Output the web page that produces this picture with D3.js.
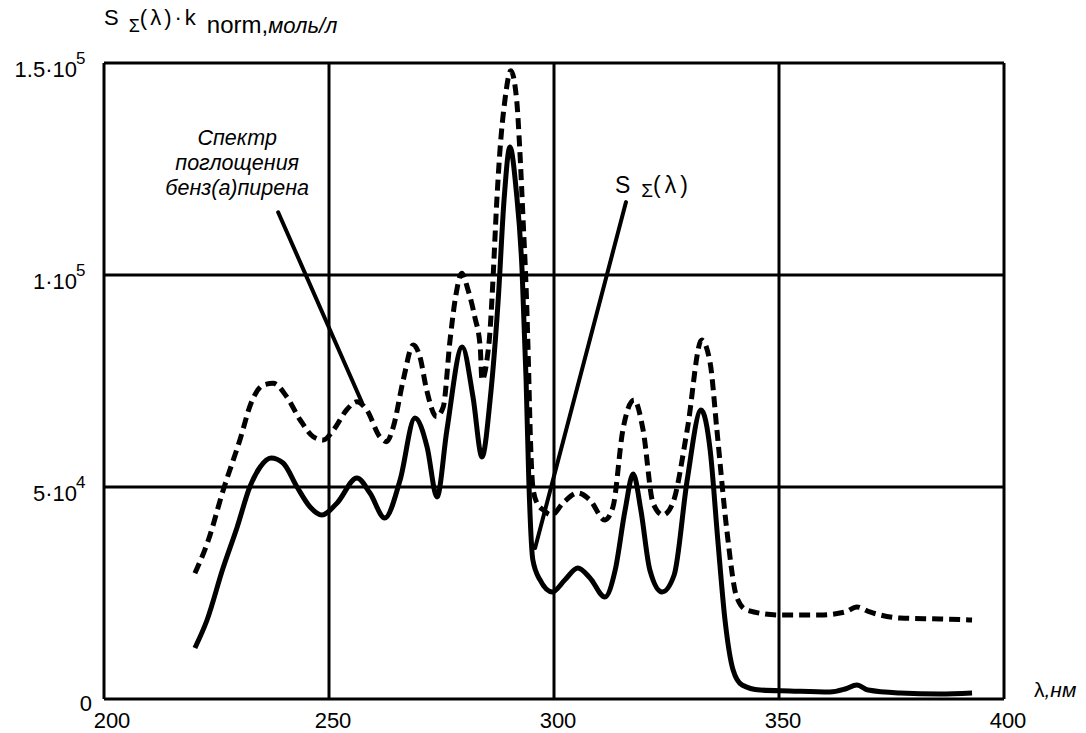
<!DOCTYPE html>
<html>
<head>
<meta charset="utf-8">
<script src="https://cdn.jsdelivr.net/npm/d3@7"></script>
<style>
  html, body { margin: 0; padding: 0; background: #fff; }
  svg { display: block; font-family: "Liberation Sans", Arial, sans-serif; }
</style>
</head>
<body>
<svg id="chart" width="1086" height="733"></svg>
<script>
// ---- data ----
const xTicks = [200, 250, 300, 350, 400];
const yTicks = [0, 50000, 100000, 150000];
const yTickMant = ["0", "5·10", "1·10", "1.5·10"];
const yTickExp = ["", "4", "5", "5"];

// S_Σ(λ) — solid
const sumLambda = [220.2,222.9,226.4,229.6,232.4,234.7,237.1,239.8,242.9,245.8,248.4,251.8,256.2,259.1,262.4,265.8,269.1,271.8,274.0,276.2,279.6,282.0,284.0,285.8,287.6,288.9,290.2,291.6,292.9,293.8,294.4,295.3,296.9,299.6,302.4,305.3,308.0,311.3,313.6,315.8,317.6,319.3,321.3,324.0,326.7,329.6,332.7,334.7,336.4,338.0,339.8,341.8,345.8,352.4,361.3,364.7,367.3,369.8,376.9,385.8,392.9];
const sumValue = [12030,18630,30700,40570,50000,54720,56840,55660,50000,45290,43400,46230,52120,48580,42690,51650,66270,59430,47640,63440,83020,71230,57080,70520,94100,117700,130200,120000,101200,75200,51650,32800,28070,25240,28070,30900,28540,24060,30420,44580,53070,44580,30420,25240,29250,51650,68160,58730,37500,18630,6840,3300,2120,1890,1650,2360,3300,2120,1420,1180,1420];

// benz(a)pyrene absorption spectrum · k_norm — dashed
const bapLambda = [220.2,223.2,226.5,230.2,232.8,235.4,237.6,240.6,243.6,246.5,248.7,251.0,253.9,256.2,258.4,261.3,262.8,264.3,266.5,268.7,270.2,271.7,273.9,275.4,276.9,278.2,279.5,280.9,282.4,283.6,284.0,285.1,285.8,286.4,287.3,288.0,289.1,290.4,291.7,292.4,293.1,293.9,294.3,294.7,295.3,296.2,297.6,299.5,302.0,305.3,308.0,311.3,313.1,315.3,317.8,319.8,322.0,324.2,326.4,329.6,332.8,334.7,336.2,338.4,340.6,342.8,350.2,359.1,364.7,367.3,370.2,376.9,385.8,392.9];
const bapValue = [29650,37500,49290,61090,70120,74060,74460,71300,65800,61860,61090,63440,68160,70120,68160,61860,60680,64220,75240,83490,80730,72880,66580,68940,84670,95280,100400,96460,90100,83020,75240,79950,87030,98110,117700,129500,141300,148200,141300,129500,113700,94100,79950,63440,50000,46230,44580,43400,46230,48580,46930,42220,45280,63440,70520,63440,46230,43400,46230,63440,84670,79240,63440,39860,24060,20990,19810,19810,20520,21700,20520,19100,18870,18630];

// annotation anchors (data units)
const bapLeader = [[238.7, 114800], [257.3, 70000]];
const sumLeader = [[316.0, 117200], [295.8, 35600]];
const bapNoteLines = ["Спектр", "поглощения", "бенз(а)пирена"];

// ---- layout ----
const svg = d3.select("#chart");
const x = d3.scaleLinear().domain([200, 400]).range([104, 1004]);
const y = d3.scaleLinear().domain([0, 150000]).range([699, 63]);

// grid
const g = svg.append("g");
g.selectAll("line.vg").data(xTicks).join("line")
  .attr("x1", d => x(d)).attr("x2", d => x(d))
  .attr("y1", y(0)).attr("y2", y(150000))
  .attr("stroke", "#000").attr("stroke-width", 3);
g.selectAll("line.hg").data(yTicks).join("line")
  .attr("x1", x(200)).attr("x2", x(400))
  .attr("y1", d => y(d)).attr("y2", d => y(d))
  .attr("stroke", "#000").attr("stroke-width", 3);

// x tick labels
svg.append("g").selectAll("text").data(xTicks).join("text")
  .attr("x", (d, i) => x(d) + (i === 0 ? 8 : 4)).attr("y", y(0) + 29)
  .attr("text-anchor", "middle").attr("font-size", 22)
  .text(d => d);

// y tick labels
svg.append("g").selectAll("text").data(yTicks).join("text")
  .attr("x", (d, i) => i === 0 ? 92 : 77)
  .attr("y", (d, i) => y(d) + (i === 0 ? 12 : 14))
  .attr("text-anchor", "end").attr("font-size", 22)
  .text((d, i) => yTickMant[i]);
svg.append("g").selectAll("text").data(yTicks.slice(1)).join("text")
  .attr("x", 76).attr("y", d => y(d) + 1)
  .attr("font-size", 17)
  .text((d, i) => yTickExp[i + 1]);

// curves
const line = d3.line().x(d => x(d[0])).y(d => y(d[1])).curve(d3.curveMonotoneX);
const sumData = sumLambda.map((l, i) => [l, sumValue[i]]);
const bapData = bapLambda.map((l, i) => [l, bapValue[i]]);

svg.append("path").attr("d", line(bapData))
  .attr("fill", "none").attr("stroke", "#000").attr("stroke-width", 5)
  .attr("stroke-dasharray", "11,6");
svg.append("path").attr("d", line(sumData))
  .attr("fill", "none").attr("stroke", "#000").attr("stroke-width", 5)
  .attr("stroke-linejoin", "round");

// leaders
const straight = d3.line().x(d => x(d[0])).y(d => y(d[1]));
[bapLeader, sumLeader].forEach(seg => {
  svg.append("path").attr("d", straight(seg))
    .attr("fill", "none").attr("stroke", "#000").attr("stroke-width", 4)
    .attr("stroke-linecap", "round");
});

// annotation text
svg.append("g").selectAll("text").data(bapNoteLines).join("text")
  .attr("x", x(229.6)).attr("y", (d, i) => 145 + i * 25)
  .attr("text-anchor", "middle").attr("font-size", 21.5)
  .attr("font-style", "italic")
  .text(d => d);

// S_Σ(λ) label
const sl = svg.append("text").attr("x", 615).attr("y", 193).attr("font-size", 23);
sl.append("tspan").text("S");
sl.append("tspan").attr("dx", 11).attr("dy", 4).attr("font-size", 19).text("Σ");
sl.append("tspan").attr("dy", -4).attr("font-size", 23).attr("letter-spacing", 4).text("(λ)");

// y-axis title
const yt = svg.append("text").attr("x", 104).attr("y", 25).attr("font-size", 22);
yt.append("tspan").text("S");
yt.append("tspan").attr("dx", 10).attr("dy", 7).attr("font-size", 18).text("Σ");
yt.append("tspan").attr("dy", -7).attr("font-size", 22).attr("letter-spacing", 3).text("(λ)·k");
yt.append("tspan").attr("dx", 8).attr("dy", 8).attr("font-size", 24).text("norm,");
yt.append("tspan").attr("font-size", 22).attr("font-style", "italic").text("моль/л");

// x-axis title
const xt = svg.append("text").attr("x", 1034).attr("y", 697).attr("font-size", 21);
xt.append("tspan").text("λ");
xt.append("tspan").attr("font-style", "italic").text(",нм");
</script>
</body>
</html>
